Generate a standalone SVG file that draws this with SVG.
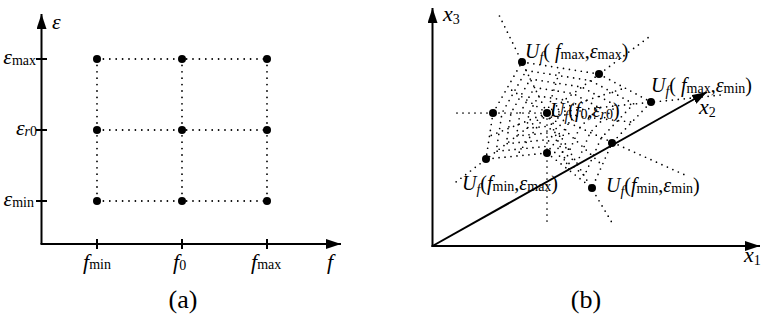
<svg xmlns="http://www.w3.org/2000/svg" width="764" height="317" viewBox="0 0 764 317">
<style>
text{font-family:"Liberation Serif","Times New Roman",serif;font-size:20px;fill:#000}
.i{font-style:italic}
.s{font-size:14px}
.cap{font-size:26px}
.ax{stroke:#000;stroke-width:2;fill:none}
.dot{stroke:#000;stroke-width:1.8;fill:none;stroke-linecap:round;stroke-dasharray:0 6.4}
.web{stroke:#000;stroke-width:1.7;fill:none;stroke-linecap:round;stroke-dasharray:0 6}
.pt{fill:#000}
</style>
<defs>
<marker id="arr" markerUnits="userSpaceOnUse" markerWidth="15" markerHeight="10" refX="15" refY="5" orient="auto">
<path d="M0,0 L15,5 L0,10 Z" fill="#000"/>
</marker>
</defs>
<rect width="764" height="317" fill="#fff"/>

<!-- Panel (a) -->
<g id="panel-a">
<g id="axes-a">
<path class="ax" d="M41.5,244 L41.5,14" marker-end="url(#arr)"/>
<path class="ax" d="M40.5,244 L341,244" marker-end="url(#arr)"/>
<path class="ax" d="M36,59 H47 M36,130 H47 M36,201 H47 M97,239 V249 M182,239 V249 M267,239 V249"/>
</g>
<g id="grid-a">
<path class="dot" d="M97,59 H267 M97,130 H267 M97,201 H267 M97,59 V201 M182,59 V201 M267,59 V201"/>
</g>
<g id="pa11"><circle class="pt" cx="97" cy="59" r="4"/></g>
<g id="pa12"><circle class="pt" cx="182" cy="59" r="4"/></g>
<g id="pa13"><circle class="pt" cx="267" cy="59" r="4"/></g>
<g id="pa21"><circle class="pt" cx="97" cy="130" r="4"/></g>
<g id="pa22"><circle class="pt" cx="182" cy="130" r="4"/></g>
<g id="pa23"><circle class="pt" cx="267" cy="130" r="4"/></g>
<g id="pa31"><circle class="pt" cx="97" cy="201" r="4"/></g>
<g id="pa32"><circle class="pt" cx="182" cy="201" r="4"/></g>
<g id="pa33"><circle class="pt" cx="267" cy="201" r="4"/></g>
<g id="labels-a">
<text x="52" y="29" class="i" style="font-size:22px">ε</text>
<text x="36" y="64" text-anchor="end"><tspan class="i" style="font-size:22px">ε</tspan><tspan class="s" dy="1">max</tspan></text>
<text x="37" y="135" text-anchor="end"><tspan class="i" style="font-size:22px">ε</tspan><tspan class="s i" dy="1">r</tspan><tspan class="s">0</tspan></text>
<text x="34" y="206" text-anchor="end"><tspan class="i" style="font-size:22px">ε</tspan><tspan class="s" dy="1">min</tspan></text>
<text x="83" y="269"><tspan class="i" style="font-size:22px">f</tspan><tspan class="s">min</tspan></text>
<text x="173" y="269"><tspan class="i" style="font-size:22px">f</tspan><tspan class="s" dy="1">0</tspan></text>
<text x="251" y="269"><tspan class="i" style="font-size:22px">f</tspan><tspan class="s">max</tspan></text>
<text x="327" y="269" class="i" style="font-size:22px">f</text>
<text x="183" y="308" text-anchor="middle" class="cap">(a)</text>
</g>
</g>

<!-- Panel (b) -->
<g id="panel-b">
<g id="axes-b">
<path class="ax" d="M432.5,247 L432.5,8" marker-end="url(#arr)"/>
<path class="ax" d="M431.5,246 L760,246" marker-end="url(#arr)"/>
<path class="ax" d="M432.5,246 L707,92" marker-end="url(#arr)"/>
</g>
<g id="web-b">
<path class="web" d="M547,113 L498,13 M547,113 L649,37 M547,113 L721,95 M547,113 L685,175 M547,113 L614,226 M547,113 L547,222 M547,113 L452,185 M547,113 L452,113"/>
<path class="web" d="M547,113 L560.5,68 M547,113 L625,88 M547,113 L631.5,122 M547,113 L602,165 M547,113 L569.5,170.5 M547,113 L516.5,156 M547,113 L489.5,136 M547,113 L507.5,87.5"/>
<path class="web" d="M522,62 L599,74 L651,102 L612,143 L592,188 L547,153 L486,159 L493,113 Z"/>
<path class="web" d="M526.2,70.5 L590.3,80.5 L633.7,103.8 L601.2,138 L584.5,175.5 L547,146.3 L496.2,151.3 L502,113 Z"/>
<path class="web" d="M530.3,79 L581.7,87 L616.3,105.7 L590.3,132.3 L577,163 L547,139.7 L506.3,143.7 L511,113 Z"/>
<path class="web" d="M534.5,87.5 L573,93.5 L599,107.5 L579.5,128 L569.5,150.5 L547,133 L516.5,136 L520,113 Z"/>
<path class="web" d="M538.7,96 L564.3,100 L581.7,109.3 L568.7,122.7 L562,138 L547,126.3 L526.7,128.3 L529,113 Z"/>
</g>
<g id="pb-c"><circle class="pt" cx="547" cy="113" r="4"/></g>
<g id="pb-1"><circle class="pt" cx="522" cy="62" r="4"/></g>
<g id="pb-2"><circle class="pt" cx="599" cy="74" r="4"/></g>
<g id="pb-3"><circle class="pt" cx="651" cy="102" r="4"/></g>
<g id="pb-4"><circle class="pt" cx="612" cy="143" r="4"/></g>
<g id="pb-5"><circle class="pt" cx="592" cy="188" r="4"/></g>
<g id="pb-6"><circle class="pt" cx="547" cy="153" r="4"/></g>
<g id="pb-7"><circle class="pt" cx="486" cy="159" r="4"/></g>
<g id="pb-8"><circle class="pt" cx="493" cy="113" r="4"/></g>
<g id="labels-b">
<text x="443" y="21"><tspan class="i" style="font-size:22px">x</tspan><tspan class="s" dy="3">3</tspan></text>
<text x="744" y="262"><tspan class="i" style="font-size:22px">x</tspan><tspan class="s" dy="3">1</tspan></text>
<text x="699" y="114"><tspan class="i" style="font-size:22px">x</tspan><tspan class="s" dy="3">2</tspan></text>
<text x="525" y="58"><tspan class="i">U</tspan><tspan class="s i" dy="4">f</tspan><tspan dy="-4">( </tspan><tspan class="i">f</tspan><tspan class="s" dy="1">max</tspan><tspan dy="-1">,</tspan><tspan class="i">ε</tspan><tspan class="s" dy="1">max</tspan><tspan dy="-1">)</tspan></text>
<text x="651" y="92"><tspan class="i">U</tspan><tspan class="s i" dy="4">f</tspan><tspan dy="-4">( </tspan><tspan class="i">f</tspan><tspan class="s" dy="1">max</tspan><tspan dy="-1">,</tspan><tspan class="i">ε</tspan><tspan class="s" dy="1">min</tspan><tspan dy="-1">)</tspan></text>
<text x="550" y="117"><tspan class="i">U</tspan><tspan class="s i" dy="4">f</tspan><tspan dy="-4">(</tspan><tspan class="i">f</tspan><tspan class="s" dy="2">0</tspan><tspan dy="-2">,</tspan><tspan class="i">ε</tspan><tspan class="s i" dy="2">r</tspan><tspan class="s">0</tspan><tspan dy="-2">)</tspan></text>
<text x="462" y="190"><tspan class="i">U</tspan><tspan class="s i" dy="4">f</tspan><tspan dy="-4">(</tspan><tspan class="i">f</tspan><tspan class="s" dy="1">min</tspan><tspan dy="-1">,</tspan><tspan class="i">ε</tspan><tspan class="s" dy="1">max</tspan><tspan dy="-1">)</tspan></text>
<text x="606" y="192"><tspan class="i">U</tspan><tspan class="s i" dy="4">f</tspan><tspan dy="-4">(</tspan><tspan class="i">f</tspan><tspan class="s" dy="1">min</tspan><tspan dy="-1">,</tspan><tspan class="i">ε</tspan><tspan class="s" dy="1">min</tspan><tspan dy="-1">)</tspan></text>
<text x="586" y="308" text-anchor="middle" class="cap">(b)</text>
</g>
</g>
</svg>
